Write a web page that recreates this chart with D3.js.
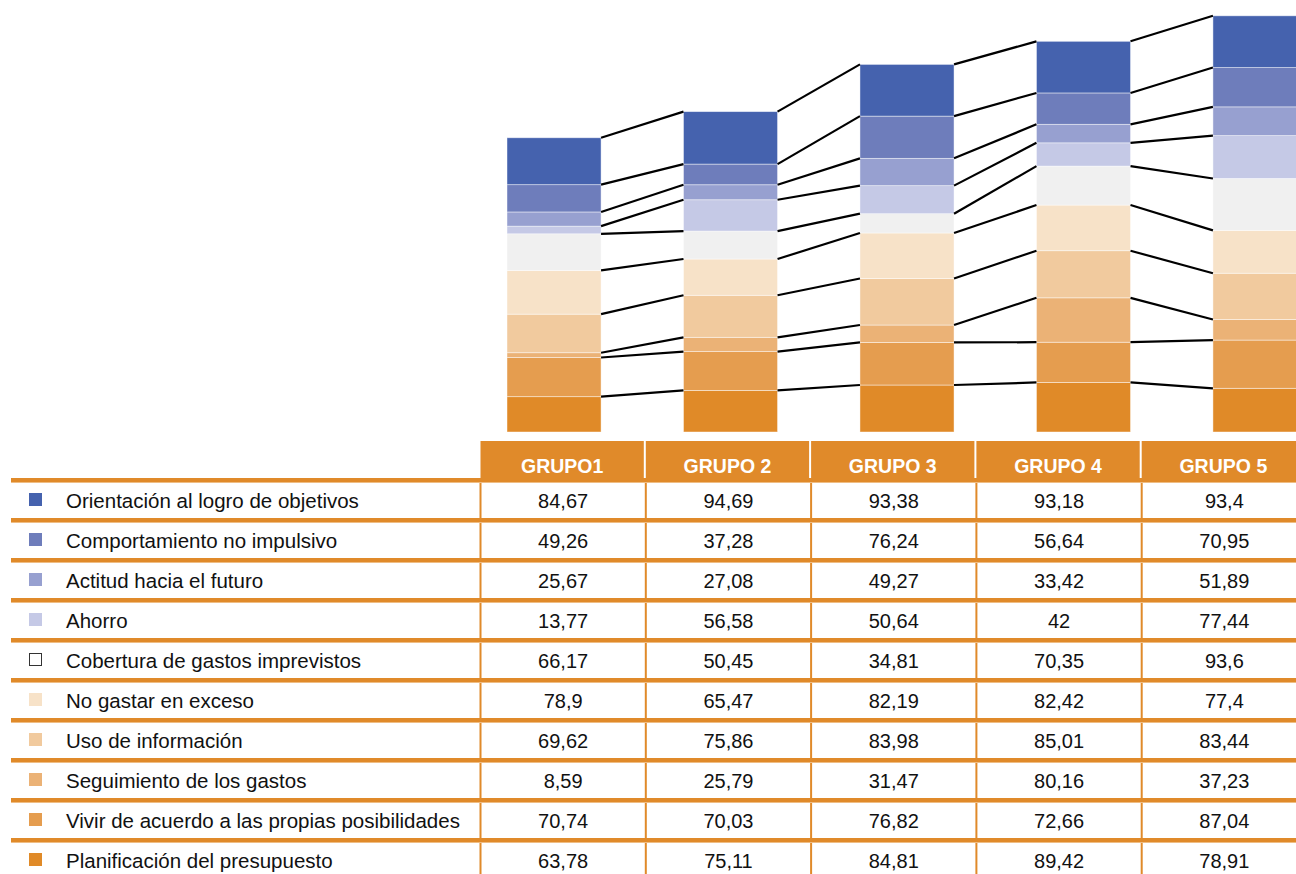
<!DOCTYPE html>
<html>
<head>
<meta charset="utf-8">
<script src="https://cdn.jsdelivr.net/npm/d3@7"></script>
<style>
  html, body { margin: 0; padding: 0; background: #fff; }
  svg { display: block; }
  text { font-family: "Liberation Sans", Arial, sans-serif; }
</style>
</head>
<body>
<svg id="chart" width="1296" height="874"></svg>
<script>
// Groups (columns) and dimensions (rows), listed top row first
const groups = ["GRUPO1", "GRUPO 2", "GRUPO 3", "GRUPO 4", "GRUPO 5"];
const dimensions = [
  "Orientación al logro de objetivos",
  "Comportamiento no impulsivo",
  "Actitud hacia el futuro",
  "Ahorro",
  "Cobertura de gastos imprevistos",
  "No gastar en exceso",
  "Uso de información",
  "Seguimiento de los gastos",
  "Vivir de acuerdo a las propias posibilidades",
  "Planificación del presupuesto"
];
const orientacion    = [84.67, 94.69, 93.38, 93.18, 93.4];
const comportamiento = [49.26, 37.28, 76.24, 56.64, 70.95];
const actitud        = [25.67, 27.08, 49.27, 33.42, 51.89];
const ahorro         = [13.77, 56.58, 50.64, 42, 77.44];
const cobertura      = [66.17, 50.45, 34.81, 70.35, 93.6];
const noGastar       = [78.9, 65.47, 82.19, 82.42, 77.4];
const usoInfo        = [69.62, 75.86, 83.98, 85.01, 83.44];
const seguimiento    = [8.59, 25.79, 31.47, 80.16, 37.23];
const vivir          = [70.74, 70.03, 76.82, 72.66, 87.04];
const planificacion  = [63.78, 75.11, 84.81, 89.42, 78.91];
const seriesValues = [orientacion, comportamiento, actitud, ahorro, cobertura,
                      noGastar, usoInfo, seguimiento, vivir, planificacion];
const colors = ["#4562AE", "#6E7DBB", "#97A0D0", "#C5C9E6", "#F0F0F0",
                "#F7E2C8", "#F1CA9E", "#EBB276", "#E59D4F", "#E08A28"];

const svg = d3.select("#chart");
const ORANGE = "#E08A2A";

// ---- stacked bars (bottom of stack = last row of the table) ----
const rows = groups.map((g, gi) => {
  const r = { group: g };
  dimensions.forEach((d, di) => { r[d] = seriesValues[di][gi]; });
  return r;
});
const stackKeys = dimensions.slice().reverse();
const stacked = d3.stack().keys(stackKeys)(rows);

const x = d3.scaleBand().domain(groups).range([507, 1307]).paddingInner(0.467).paddingOuter(0);
const y = d3.scaleLinear().domain([0, 760]).range([432, 11]);
const colorOf = d3.scaleOrdinal().domain(dimensions).range(colors);

const bars = svg.append("g");
bars.selectAll("g.layer").data(stacked).join("g")
  .attr("class", "layer")
  .attr("fill", d => colorOf(d.key))
  .selectAll("rect").data(d => d).join("rect")
    .attr("x", d => x(d.data.group))
    .attr("y", d => y(d[1]))
    .attr("width", x.bandwidth())
    .attr("height", d => y(d[0]) - y(d[1]))
    .attr("stroke", "#ffffff")
    .attr("stroke-opacity", 0.55)
    .attr("stroke-width", 0.8);

// series connectors between the tops of matching segments
const connectors = svg.append("g").attr("stroke", "#000").attr("stroke-width", 2.2).attr("fill", "none");
stacked.forEach(layer => {
  for (let i = 0; i < groups.length - 1; i++) {
    connectors.append("line")
      .attr("x1", x(groups[i]) + x.bandwidth())
      .attr("y1", y(layer[i][1]))
      .attr("x2", x(groups[i + 1]))
      .attr("y2", y(layer[i + 1][1]));
  }
});

// ---- data table ----
const col = d3.scaleBand().domain(groups).range([480.5, 480.5 + 5 * 165.3]);
const headerTop = 441, rowTop = 478, rowH = 40;
const row = d3.scaleBand().domain(dimensions).range([rowTop, rowTop + rowH * dimensions.length]);

const table = svg.append("g");

// header cells
table.selectAll("rect.hdr").data(groups).join("rect")
  .attr("class", "hdr")
  .attr("x", d => col(d))
  .attr("y", headerTop)
  .attr("width", col.bandwidth() - 2)
  .attr("height", rowTop + 2 - headerTop)
  .attr("fill", ORANGE);
table.selectAll("text.hdr").data(groups).join("text")
  .attr("class", "hdr")
  .attr("x", d => col(d) + col.bandwidth() / 2 - 1)
  .attr("y", 473)
  .attr("text-anchor", "middle")
  .attr("fill", "#fff")
  .attr("font-weight", "bold")
  .attr("font-size", 19.5)
  .text(d => d);

// vertical column rules through the body
table.selectAll("rect.vrule").data(groups).join("rect")
  .attr("class", "vrule")
  .attr("x", d => col(d) - 1)
  .attr("y", rowTop)
  .attr("width", 2)
  .attr("height", 874 - rowTop)
  .attr("fill", ORANGE);

// horizontal row rules
table.selectAll("rect.hrule").data(dimensions).join("rect")
  .attr("class", "hrule")
  .attr("x", 11)
  .attr("y", d => row(d))
  .attr("width", 1296 - 11)
  .attr("height", 4)
  .attr("fill", ORANGE);
table.selectAll("rect.hrule2").data(dimensions).join("rect")
  .attr("class", "hrule2")
  .attr("x", 11)
  .attr("y", d => row(d) + 4)
  .attr("width", 1296 - 11)
  .attr("height", 1)
  .attr("fill", "#EFBD84");

// legend swatches and row labels
const rowG = table.selectAll("g.row").data(dimensions).join("g")
  .attr("class", "row")
  .attr("transform", d => `translate(0,${row(d)})`);
rowG.append("rect")
  .attr("x", d => d === "Cobertura de gastos imprevistos" ? 29.5 : 29)
  .attr("y", d => d === "Cobertura de gastos imprevistos" ? 15.5 : 15)
  .attr("width", d => d === "Cobertura de gastos imprevistos" ? 12 : 13)
  .attr("height", d => d === "Cobertura de gastos imprevistos" ? 12 : 13)
  .attr("fill", d => d === "Cobertura de gastos imprevistos" ? "#fff" : colorOf(d))
  .attr("stroke", d => d === "Cobertura de gastos imprevistos" ? "#333" : "none")
  .attr("stroke-width", 1);
rowG.append("text")
  .attr("x", 66)
  .attr("y", 30)
  .attr("font-size", 20.5)
  .attr("fill", "#111")
  .text(d => d);

// values
rowG.each(function(d, di) {
  d3.select(this).selectAll("text.val").data(groups).join("text")
    .attr("class", "val")
    .attr("x", g => col(g) + col.bandwidth() / 2)
    .attr("y", 29.5)
    .attr("text-anchor", "middle")
    .attr("font-size", 20)
    .attr("fill", "#111")
    .text((g, gi) => String(seriesValues[di][gi]).replace(".", ","));
});
</script>
</body>
</html>
